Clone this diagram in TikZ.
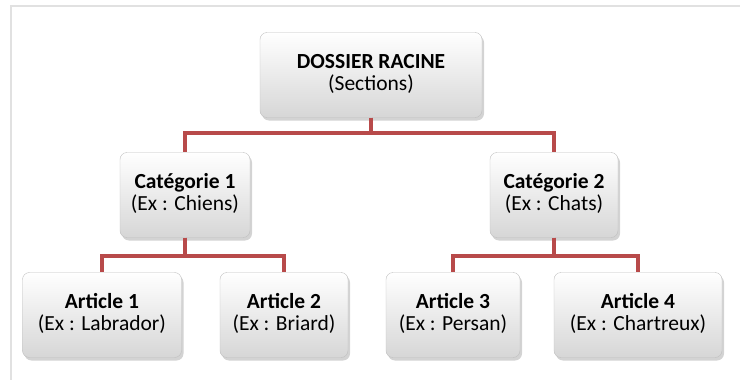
\documentclass[tikz,border=0pt]{standalone}
\usepackage{fontspec}
\setmainfont{Carlito}
\usepackage{tikz}
\usetikzlibrary{positioning,shadows,shapes.geometric}
\definecolor{lienrouge}{RGB}{184,74,74}
\definecolor{cadre}{RGB}{225,225,225}

\begin{document}
\begin{tikzpicture}[
    x=1pt, y=-1pt,
    node distance=120pt,
    font=\fontsize{21.5}{20.5}\selectfont,
    dossier/.style={
		rectangle,
		rounded corners=7pt,
		draw=black!25,
		text centered,
		minimum height=85pt,
		top color=white,
		bottom color=black!16,
		drop shadow={opacity=0.35, shadow xshift=2pt, shadow yshift=-3pt}
	},
	lien/.style={
		draw=lienrouge,
		line width=4pt
	}
  ]
    % cadre autour du schema
  \useasboundingbox (0,0) rectangle (740,380);
  \draw [cadre, line width=2pt] (740,6) -- (11,6) -- (11,380);

    % les blocs
  \node [dossier, minimum width=222pt] (racine) at (371,75)
 {%
 \begin{tabular}{c}
  \textbf{DOSSIER RACINE}\\
  (Sections)
 \end{tabular}
 };

  \node [dossier, minimum width=130pt, below of=racine, xshift=-186pt] (cat1)
 {%
 \begin{tabular}{c}
  \textbf{Catégorie 1}\\
  (Ex : Chiens)
 \end{tabular}
 };

  \node [dossier, minimum width=128pt, below of=racine, xshift=183pt] (cat2)
 {%
 \begin{tabular}{c}
  \textbf{Catégorie 2}\\
  (Ex : Chats)
 \end{tabular}
 };

  \node [dossier, minimum width=159pt, below of=cat1, xshift=-83pt] (art1)
 {%
 \begin{tabular}{c}
  \textbf{Article 1}\\
  (Ex : Labrador)
 \end{tabular}
 };

  \node [dossier, minimum width=128pt, below of=cat1, xshift=99pt] (art2)
 {%
 \begin{tabular}{c}
  \textbf{Article 2}\\
  (Ex : Briard)
 \end{tabular}
 };

  \node [dossier, minimum width=134pt, below of=cat2, xshift=-101pt] (art3)
 {%
 \begin{tabular}{c}
  \textbf{Article 3}\\
  (Ex : Persan)
 \end{tabular}
 };

  \node [dossier, minimum width=168pt, below of=cat2, xshift=84pt] (art4)
 {%
 \begin{tabular}{c}
  \textbf{Article 4}\\
  (Ex : Chartreux)
 \end{tabular}
 };

    % les liens
 \draw [lien] (racine.south) -- ++(0,15) -| (cat1.north);
 \draw [lien] (racine.south) -- ++(0,15) -| (cat2.north);
 \draw [lien] (cat1.south) -- ++(0,18) -| (art1.north);
 \draw [lien] (cat1.south) -- ++(0,18) -| (art2.north);
 \draw [lien] (cat2.south) -- ++(0,18) -| (art3.north);
 \draw [lien] (cat2.south) -- ++(0,18) -| (art4.north);

\end{tikzpicture}
\end{document}
